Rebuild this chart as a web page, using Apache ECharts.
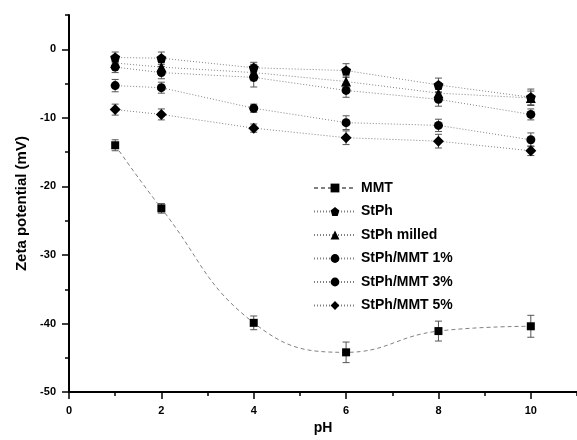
<!DOCTYPE html>
<html>
<head>
<meta charset="utf-8">
<script src="https://cdn.jsdelivr.net/npm/echarts@6/dist/echarts.min.js"></script>
<style>html,body{margin:0;padding:0;background:#fff}#c{width:577px;height:440px}</style>
</head>
<body>
<div id="c"></div>
<script>
// ---- data ----
const pH = [1, 2, 4, 6, 8, 10];
const seriesNames = ['MMT', 'StPh', 'StPh milled', 'StPh/MMT 1%', 'StPh/MMT 3%', 'StPh/MMT 5%'];
const MMT      = [-14.0, -23.2, -39.9, -44.2, -41.1, -40.4];
const StPh     = [-1.2, -1.3, -2.7, -3.1, -5.2, -7.0];
const StPhMilled = [-2.0, -2.6, -3.4, -4.7, -6.4, -7.1];
const StPhMMT1 = [-2.6, -3.4, -4.1, -6.0, -7.3, -9.5];
const StPhMMT3 = [-5.3, -5.6, -8.6, -10.7, -11.1, -13.2];
const StPhMMT5 = [-8.8, -9.5, -11.5, -12.9, -13.4, -14.8];
const errMMT      = [0.8, 0.7, 1.0, 1.5, 1.45, 1.6];
const errStPh     = [0.8, 0.9, 0.8, 1.0, 1.0, 1.2];
const errStPhMilled = [0.7, 0.8, 1.2, 0.8, 0.9, 1.0];
const errStPhMMT1 = [0.8, 0.9, 1.4, 1.0, 1.0, 0.8];
const errStPhMMT3 = [0.9, 0.8, 0.6, 1.0, 0.9, 1.0];
const errStPhMMT5 = [0.8, 0.8, 0.6, 1.0, 1.0, 0.7];
const xTicks = [0, 2, 4, 6, 8, 10];
const yTicks = [-50, -40, -30, -20, -10, 0];

const values = [MMT, StPh, StPhMilled, StPhMMT1, StPhMMT3, StPhMMT5];
const errors = [errMMT, errStPh, errStPhMilled, errStPhMMT1, errStPhMMT3, errStPhMMT5];
const symbols = ['rect', 'path://M0,-10L9.51,-3.09L5.88,8.09L-5.88,8.09L-9.51,-3.09Z', 'triangle', 'circle', 'circle', 'diamond'];
const symbolSizes = [8, 10, 10, 9, 9, 11];
const lineTypes = [[4, 3], [1, 2], [1, 2], [1, 2], [1, 2], [1, 2]];
const smooths = [0.45, false, false, false, false, false];

const FONT = '"Liberation Sans", Arial, sans-serif';

const series = [];
values.forEach((vals, i) => {
  series.push({
    type: 'custom',
    name: seriesNames[i] + ' err',
    xAxisIndex: 0, yAxisIndex: 0,
    z: 1,
    silent: true,
    data: pH.map((x, k) => [x, vals[k] - errors[i][k], vals[k] + errors[i][k]]),
    encode: { x: 0, y: [1, 2] },
    renderItem: function (params, api) {
      const x = api.value(0), lo = api.value(1), hi = api.value(2);
      const p1 = api.coord([x, hi]), p2 = api.coord([x, lo]);
      const w = 3.5;
      const st = { stroke: '#555', lineWidth: 1 };
      return { type: 'group', children: [
        { type: 'line', shape: { x1: p1[0], y1: p1[1], x2: p2[0], y2: p2[1] }, style: st },
        { type: 'line', shape: { x1: p1[0] - w, y1: p1[1], x2: p1[0] + w, y2: p1[1] }, style: st },
        { type: 'line', shape: { x1: p2[0] - w, y1: p2[1], x2: p2[0] + w, y2: p2[1] }, style: st }
      ]};
    }
  });
});
values.forEach((vals, i) => {
  series.push({
    type: 'line',
    name: seriesNames[i],
    xAxisIndex: 0, yAxisIndex: 0,
    z: 3,
    data: pH.map((x, k) => [x, vals[k]]),
    smooth: smooths[i],
    symbol: symbols[i],
    symbolSize: symbolSizes[i],
    showAllSymbol: true,
    itemStyle: { color: '#000' },
    lineStyle: { color: '#808080', width: 1, type: lineTypes[i] },
    emphasis: { disabled: true },
    animation: false
  });
});

const labelStyle = { fontFamily: FONT, fontWeight: 'bold', fontSize: 11, color: '#000' };

const option = {
  animation: false,
  grid: { left: 69, top: 15, right: -6, bottom: 36, containLabel: false },
  legend: {
    data: seriesNames,
    orient: 'vertical',
    left: 313, top: 181, padding: 0,
    itemWidth: 42, itemHeight: 11, itemGap: 9.5,
    textStyle: { fontFamily: FONT, fontWeight: 'bold', fontSize: 14, color: '#000', lineHeight: 14 },
    selectedMode: false
  },
  xAxis: [{
    type: 'value', min: 0, max: 11, interval: 2,
    position: 'bottom',
    name: 'pH', nameLocation: 'middle', nameGap: 23,
    nameTextStyle: { fontFamily: FONT, fontWeight: 'bold', fontSize: 14, color: '#000' },
    axisLine: { show: true, onZero: false, lineStyle: { color: '#000', width: 2 } },
    axisTick: { show: true, inside: false, length: 7, lineStyle: { color: '#000', width: 1.5 } },
    axisLabel: Object.assign({ margin: 13, showMaxLabel: false,
      formatter: v => xTicks.includes(v) ? String(v) : '' }, labelStyle),
    splitLine: { show: false }
  }, {
    type: 'value', min: 0, max: 11, interval: 1,
    position: 'bottom', offset: 0,
    axisLine: { show: false, onZero: false },
    axisTick: { show: true, inside: false, length: 4, lineStyle: { color: '#000', width: 1.5 } },
    axisLabel: { show: false },
    splitLine: { show: false }
  }],
  yAxis: [{
    type: 'value', min: -50, max: 5, interval: 10,
    position: 'left',
    name: 'Zeta potential (mV)', nameLocation: 'middle', nameGap: 40,
    nameTextStyle: { fontFamily: FONT, fontWeight: 'bold', fontSize: 15, color: '#000' },
    axisLine: { show: true, onZero: false, lineStyle: { color: '#000', width: 2 } },
    axisTick: { show: true, inside: false, length: 7, lineStyle: { color: '#000', width: 1.5 } },
    axisLabel: Object.assign({ margin: 13, showMaxLabel: false,
      formatter: v => yTicks.includes(v) ? String(v) : '' }, labelStyle),
    splitLine: { show: false }
  }, {
    type: 'value', min: -50, max: 5, interval: 5,
    position: 'left', offset: 0,
    axisLine: { show: false, onZero: false },
    axisTick: { show: true, inside: false, length: 4, lineStyle: { color: '#000', width: 1.5 } },
    axisLabel: { show: false },
    splitLine: { show: false }
  }],
  series: series
};

const chart = echarts.init(document.getElementById('c'), null, { renderer: 'canvas' });
chart.setOption(option);
</script>
</body>
</html>
